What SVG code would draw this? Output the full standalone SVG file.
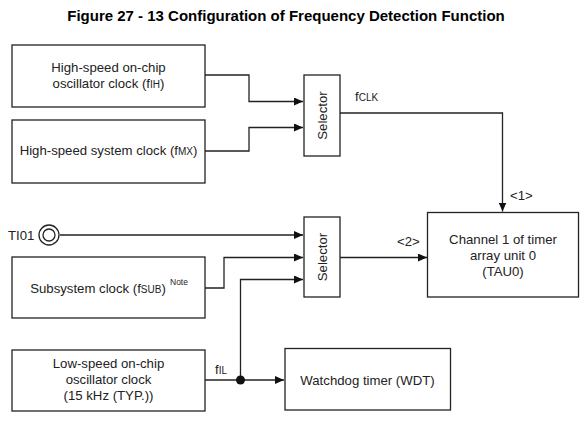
<svg xmlns="http://www.w3.org/2000/svg" width="588" height="429" viewBox="0 0 588 429">
<style>
.box{fill:#fff;stroke:#222;stroke-width:1.3}
.ln{fill:none;stroke:#222;stroke-width:1.3}
text{font-family:"Liberation Sans",Arial,sans-serif;font-size:13.2px;fill:#222}
.c{text-anchor:middle}
.sub{font-size:10px}
.title{font-weight:bold;font-size:15px;fill:#000}
</style>
<defs>
<marker id="ar" markerWidth="10" markerHeight="8" refX="9" refY="4" orient="auto" markerUnits="userSpaceOnUse">
<path d="M0,0 L9,4 L0,8 Z" fill="#111"/>
</marker>
</defs>
<rect width="588" height="429" fill="#fff"/>
<text class="title c" x="286" y="21">Figure 27 - 13 Configuration of Frequency Detection Function</text>

<g id="connectors">
<path class="ln" d="M205,75 H249 V101.5 H303" marker-end="url(#ar)"/>
<path class="ln" d="M205,151 H249 V127.5 H303" marker-end="url(#ar)"/>
<path class="ln" d="M340,113 H502.5 V211.5" marker-end="url(#ar)"/>
<path class="ln" d="M60,235 H303" marker-end="url(#ar)"/>
<path class="ln" d="M205,288 H224 V257.5 H303" marker-end="url(#ar)"/>
<path class="ln" d="M240.5,380 V279.5 H303" marker-end="url(#ar)"/>
<path class="ln" d="M340,257.5 H427" marker-end="url(#ar)"/>
<path class="ln" d="M205,380 H284" marker-end="url(#ar)"/>
<circle cx="240.5" cy="380" r="4.5" fill="#111"/>
<text x="355" y="101">f<tspan class="sub">CLK</tspan></text>
<text x="510" y="200">&lt;1&gt;</text>
<text x="397" y="246">&lt;2&gt;</text>
<text x="215" y="374">f<tspan class="sub">IL</tspan></text>
</g>

<g id="n-fih">
<rect class="box" x="12" y="45" width="193" height="62"/>
<text class="c" x="108.5" y="72">High-speed on-chip</text>
<text class="c" x="108.5" y="88">oscillator clock (f<tspan class="sub">IH</tspan>)</text>
</g>
<g id="n-fmx">
<rect class="box" x="12" y="120" width="193" height="63"/>
<text class="c" x="108.5" y="155">High-speed system clock (f<tspan class="sub">MX</tspan>)</text>
</g>
<g id="n-sel1">
<rect class="box" x="304" y="75" width="36" height="81"/>
<text class="c" transform="translate(326.5,115.5) rotate(-90)">Selector</text>
</g>
<g id="n-ti01">
<text x="8" y="240">TI01</text>
<circle cx="49" cy="235" r="10" fill="#fff" stroke="#222" stroke-width="1.3"/>
<circle cx="49" cy="235" r="6" fill="#fff" stroke="#222" stroke-width="1.3"/>
</g>
<g id="n-fsub">
<rect class="box" x="12" y="257" width="193" height="61"/>
<text class="c" x="98" y="293">Subsystem clock (f<tspan class="sub">SUB</tspan>)</text>
<text x="170" y="285" style="font-size:8.5px">Note</text>
</g>
<g id="n-sel2">
<rect class="box" x="304" y="217" width="36" height="80"/>
<text class="c" transform="translate(326.5,257) rotate(-90)">Selector</text>
</g>
<g id="n-tau">
<rect class="box" x="427.5" y="212.5" width="151" height="84.5"/>
<text class="c" x="503" y="243.5">Channel 1 of timer</text>
<text class="c" x="503" y="259.5">array unit 0</text>
<text class="c" x="503" y="275.5">(TAU0)</text>
</g>
<g id="n-fil">
<rect class="box" x="12" y="350" width="193" height="61"/>
<text class="c" x="108.5" y="368">Low-speed on-chip</text>
<text class="c" x="108.5" y="384">oscillator clock</text>
<text class="c" x="108.5" y="400">(15 kHz (TYP.))</text>
</g>
<g id="n-wdt">
<rect class="box" x="285" y="348.5" width="165.5" height="61.5"/>
<text class="c" x="367.5" y="385">Watchdog timer (WDT)</text>
</g>
</svg>
